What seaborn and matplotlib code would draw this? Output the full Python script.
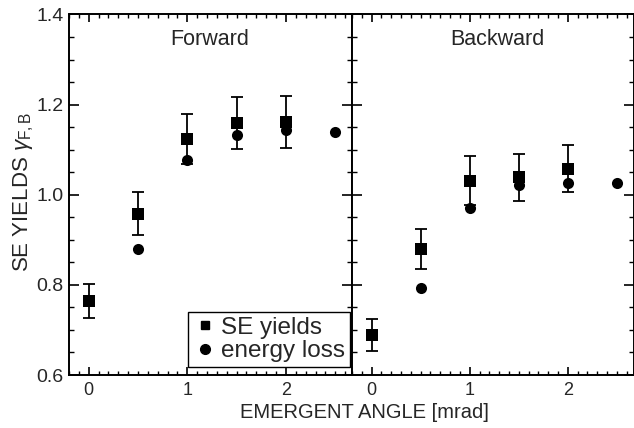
import pandas as pd
import seaborn as sns
import matplotlib
matplotlib.use('Agg')
import matplotlib.pyplot as plt
from matplotlib.ticker import MultipleLocator, FormatStrFormatter
from matplotlib.lines import Line2D

angle_se = [0, 0.5, 1, 1.5, 2]
angle_eloss = [0.5, 1, 1.5, 2, 2.5]

fwd_se = [0.764, 0.958, 1.124, 1.159, 1.161]
fwd_se_err = [0.038, 0.048, 0.056, 0.058, 0.058]
fwd_eloss = [0.879, 1.078, 1.133, 1.143, 1.139]

bwd_se = [0.689, 0.879, 1.031, 1.039, 1.058]
bwd_se_err = [0.035, 0.044, 0.054, 0.052, 0.053]
bwd_eloss = [0.793, 0.971, 1.022, 1.027, 1.027]

panel_titles = ['Forward', 'Backward']

sns.set_style('ticks')
plt.rcParams['font.family'] = ['Liberation Sans', 'DejaVu Sans']
plt.rcParams['mathtext.fontset'] = 'custom'
plt.rcParams['mathtext.rm'] = 'Liberation Sans'
plt.rcParams['mathtext.it'] = 'Liberation Sans:italic'
plt.rcParams['xtick.minor.visible'] = True
plt.rcParams['ytick.minor.visible'] = True

fig = plt.figure(figsize=(6.34, 4.28), dpi=100)
ax_f = fig.add_axes([69 / 634, 1 - 375 / 428, 283 / 634, 360.5 / 428])
ax_b = fig.add_axes([352 / 634, 1 - 375 / 428, 281.5 / 634, 360.5 / 428])

panels = [
    (ax_f, fwd_se, fwd_se_err, fwd_eloss),
    (ax_b, bwd_se, bwd_se_err, bwd_eloss),
]
title_x = [(210 - 69) / 283, (497 - 352) / 281.5]

for (ax, se, err, eloss), title, tx in zip(panels, panel_titles, title_x):
    ax.errorbar(angle_se, se, yerr=err, fmt='none', ecolor='black',
                elinewidth=1.3, capsize=4, capthick=1.3, zorder=2)
    sns.scatterplot(x=angle_eloss, y=eloss, marker='o', color='black',
                    s=64, linewidth=0, ax=ax, zorder=3)
    sns.scatterplot(x=angle_se, y=se, marker='s', color='black',
                    s=64, linewidth=0, ax=ax, zorder=4)

    ax.set_xlim(-0.2, 2.67)
    ax.set_ylim(0.6, 1.4)
    ax.xaxis.set_major_locator(MultipleLocator(1))
    ax.xaxis.set_minor_locator(MultipleLocator(0.1))
    ax.yaxis.set_major_locator(MultipleLocator(0.2))
    ax.yaxis.set_minor_locator(MultipleLocator(0.05))
    ax.tick_params(which='both', direction='in', top=True, right=True,
                   color='black')
    ax.tick_params(axis='y', which='major', length=7, width=1.2,
                   labelsize=14, pad=4)
    ax.tick_params(axis='y', which='minor', length=3.5, width=1)
    ax.tick_params(axis='x', which='major', length=6, width=1.2,
                   labelsize=13, pad=5)
    ax.tick_params(axis='x', which='minor', length=3, width=1)
    for sp in ax.spines.values():
        sp.set_visible(True)
        sp.set_linewidth(1.4)
        sp.set_color('black')
    ax.set_xlabel('')
    ax.set_ylabel('')
    ax.text(tx, (375 - 40) / 360.5, title, transform=ax.transAxes,
            ha='center', va='center', fontsize=15.5)

ax_f.yaxis.set_major_formatter(FormatStrFormatter('%.1f'))
ax_b.tick_params(axis='y', which='both', labelleft=False)

handles = [
    Line2D([], [], marker='s', color='black', linestyle='none', markersize=6),
    Line2D([], [], marker='o', color='black', linestyle='none', markersize=7),
]
leg = ax_f.legend(handles, ['SE yields', 'energy loss'], loc='lower right',
                  bbox_to_anchor=((350 - 69) / 283, (375 - 367) / 360.5),
                  fontsize=17.5, frameon=True, fancybox=False,
                  edgecolor='black', framealpha=1, handlelength=1.0,
                  handletextpad=0.15, borderpad=0.2, labelspacing=0.05,
                  borderaxespad=0)
leg.get_frame().set_linewidth(1.0)

fig.text(364 / 634, 1 - 412 / 428, 'EMERGENT ANGLE [mrad]',
         ha='center', va='center', fontsize=14.5)
fig.text(24 / 634, 1 - 192 / 428, r'SE YIELDS $\gamma_{\mathrm{F,B}}$',
         ha='center', va='center', rotation=90, fontsize=16)

fig.savefig('out.png', dpi=100)
